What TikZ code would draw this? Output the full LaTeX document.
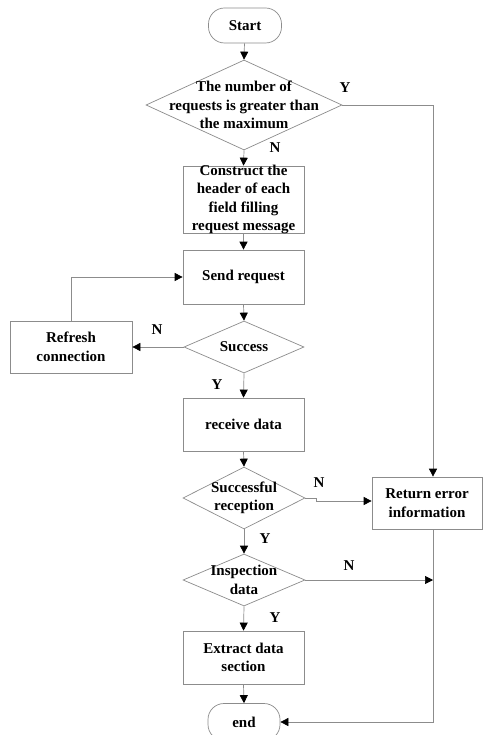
\documentclass[tikz,border=0pt]{standalone}
\usepackage{fontspec}
\setmainfont{Liberation Serif}
\usetikzlibrary{arrows.meta,shapes.geometric}
\begin{document}
\begin{tikzpicture}[x=1pt,y=-1pt,
  shp/.style={draw=black!45,line width=0.7pt},
  txt/.style={font=\fontsize{15}{18.5}\selectfont\bfseries,align=center,inner sep=0pt},
  box/.style={shp,rectangle,minimum width=121pt,minimum height=54pt,inner sep=0pt},
  pill/.style={shp,rectangle,rounded corners=16pt,minimum width=73pt,minimum height=35pt,inner sep=0pt},
  dia/.style={shp,diamond,inner sep=0pt},
  con/.style={draw=black!45,line width=0.7pt,-{Triangle[length=8pt,width=8pt,fill=black,color=black]}},
  lnk/.style={draw=black!45,line width=0.7pt},
  lab/.style={font=\fontsize{15}{18}\selectfont\bfseries,inner sep=0pt}]
\useasboundingbox[fill=white] (0,0) rectangle (482,735);
% nodes
\node[pill] (start) at (245,25.5) {};
\node[txt] at (start) {Start};
\node[dia,minimum width=196pt,minimum height=90pt] (d1) at (244,105) {};
\node[txt] at (d1) {The number of\\requests is greater than\\the maximum};
\node[box,minimum height=67pt] (cons) at (243.5,199.5) {};
\node[txt] at (cons) {Construct the\\header of each\\field filling\\request message};
\node[box] (send) at (243.5,277) {};
\node[txt] at (send) {Send request};
\node[dia,minimum width=120pt,minimum height=52pt] (succ) at (244,347) {};
\node[txt] at (succ) {Success};
\node[box,minimum width=122pt,minimum height=52pt] (refr) at (71,347) {};
\node[txt] at (refr) {Refresh\\connection};
\node[box,minimum height=53pt] (recv) at (243.5,424.5) {};
\node[txt] at (recv) {receive data};
\node[dia,minimum width=122pt,minimum height=62pt] (srec) at (244,498) {};
\node[txt] at (srec) {Successful\\reception};
\node[box,minimum width=110pt,minimum height=52pt] (ret) at (427,503) {};
\node[txt] at (ret) {Return error\\information};
\node[dia,minimum width=122pt,minimum height=52pt] (insp) at (244,580) {};
\node[txt] at (insp) {Inspection\\data};
\node[box,minimum height=53pt] (extr) at (243.5,657.5) {};
\node[txt] at (extr) {Extract data\\section};
\node[pill,minimum width=72pt,minimum height=37pt] (endn) at (244,722) {};
\node[txt] at (endn) {end};
% coordinates
\coordinate (rx) at (433,105);
\coordinate (jog) at (316,498);
\coordinate (rbot) at (433,529);
\coordinate (ibot) at (433,722);
% connectors
\draw[con] (start) -- (d1.north);
\draw[con] (d1.south) -- (cons.north);
\draw[con] (cons.south) -- (send.north);
\draw[con] (send.south) -- (succ.north);
\draw[con] (succ.west) -- (refr.east);
\draw[con] (refr.north) |- (send.west);
\draw[con] (succ.south) -- (recv.north);
\draw[con] (recv.south) -- (srec.north);
\draw[con] (d1.east) -- (rx) -- (rx |- ret.north);
\draw[con] (srec.east) -- (jog) -- ++(0,3) -- (ret.west |- 0,501);
\draw[con] (srec.south) -- (insp.north);
\draw[con] (insp.east) -- (rx |- insp.east);
\draw[con] (insp.south) -- (extr.north);
\draw[con] (extr.south) -- (endn.north);
\draw[con] (rbot) -- (ibot) -- (endn.east);
% labels
\node[lab] at (345,88) {Y};
\node[lab] at (275,148) {N};
\node[lab] at (157,330) {N};
\node[lab] at (217,385) {Y};
\node[lab] at (319,483) {N};
\node[lab] at (265,539) {Y};
\node[lab] at (349,566) {N};
\node[lab] at (275,618) {Y};
\end{tikzpicture}
\end{document}
